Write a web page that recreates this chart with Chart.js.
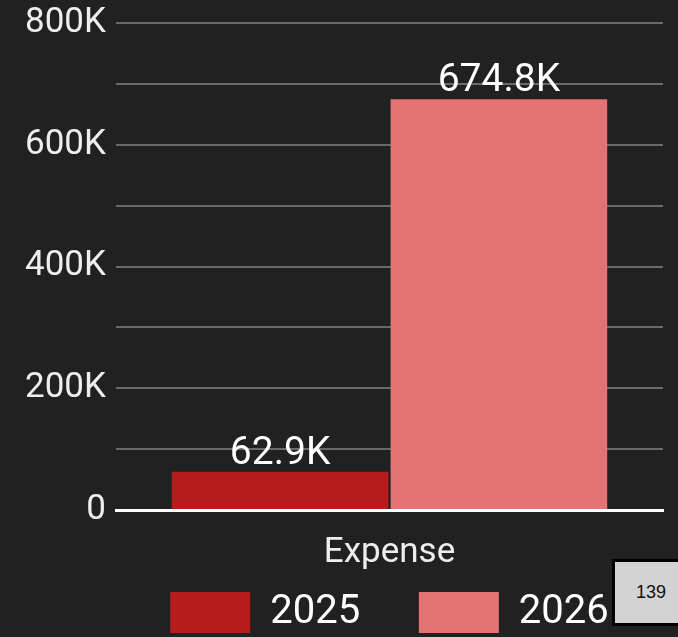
<!DOCTYPE html>
<html>
<head>
<meta charset="utf-8">
<script src="https://cdn.jsdelivr.net/npm/chart.js"></script>
<style>
  html, body { margin: 0; padding: 0; background: #212121; }
  #wrap { position: relative; width: 678px; height: 637px; overflow: hidden; }
  #badge {
    position: absolute; left: 612px; top: 559px; width: 78px; height: 67px;
    background: #d3d3d3; border: 3px solid #000; box-sizing: border-box;
    font: 18px "Liberation Sans", Arial, sans-serif; color: #111;
    display: flex; align-items: center; justify-content: center;
  }
</style>
</head>
<body>
<div id="wrap">
  <canvas id="expenseChart" width="678" height="637"></canvas>
  <div id="badge">139</div>
</div>
<script>
let categories = ["Expense"];
let years = ["2025", "2026"];
let values2025 = [62900];
let values2026 = [674800];
let barColors = ["#b71c1c", "#e57373"];

function shortK(v) {
  if (v === 0) return "0";
  return (v / 1000).toFixed(v % 1000 === 0 ? 0 : 1) + "K";
}

// value labels above each bar
let barLabels = {
  id: "barLabels",
  afterDatasetsDraw(chart) {
    let ctx = chart.ctx;
    ctx.save();
    ctx.font = "39px Roboto";
    ctx.fillStyle = "#ffffff";
    ctx.textAlign = "center";
    ctx.textBaseline = "alphabetic";
    chart.data.datasets.forEach((ds, i) => {
      chart.getDatasetMeta(i).data.forEach((bar, j) => {
        ctx.fillText(shortK(ds.data[j]), bar.x, bar.y - 8);
      });
    });
    ctx.restore();
  }
};

let ctx = document.getElementById("expenseChart").getContext("2d");

new Chart(ctx, {
  type: "bar",
  data: {
    labels: categories,
    datasets: [{
        label: years[0],
        data: values2025,
        backgroundColor: barColors[0]
      },
      {
        label: years[1],
        data: values2026,
        backgroundColor: barColors[1]
      }
    ]
  },
  options: {
    responsive: false,
    animation: false,
    layout: {
      padding: { top: 23, right: 15, left: 0, bottom: -6 }
    },
    datasets: {
      bar: { categoryPercentage: 0.8, barPercentage: 0.99 }
    },
    scales: {
      x: {
        afterFit: (scale) => { scale.height -= 15; },
        grid: { display: false },
        border: { color: "#ffffff", width: 3 },
        ticks: { color: "#eeeeee", font: { family: "Roboto", size: 35 }, padding: 14 }
      },
      y: {
        min: 0,
        max: 800000,
        afterFit: (scale) => {
          scale.width = 116;
          scale.paddingTop = 0;
          scale.paddingBottom = 0;
        },
        grid: { color: "#6a6a6a", lineWidth: 2, drawTicks: false },
        border: { display: false },
        ticks: {
          stepSize: 100000,
          color: "#eeeeee",
          font: { family: "Roboto", size: 35 },
          padding: 10,
          callback: (v) => (v % 200000 === 0 ? shortK(v) : "")
        }
      }
    },
    plugins: {
      legend: {
        position: "bottom",
        fullSize: false,
        labels: {
          color: "#ffffff",
          font: { family: "Roboto", size: 40 },
          boxWidth: 80,
          boxHeight: 41,
          padding: 19,
          // widen the gap after the first entry without growing the legend height
          generateLabels(chart) {
            let items = Chart.defaults.plugins.legend.labels.generateLabels(chart);
            items[0].text += "    ";
            return items;
          }
        }
      },
      tooltip: { enabled: false }
    }
  },
  plugins: [barLabels]
});
</script>
</body>
</html>
